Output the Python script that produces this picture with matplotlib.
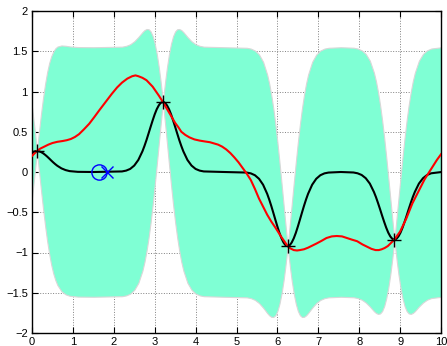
import matplotlib
matplotlib.use('Agg')
import matplotlib.pyplot as plt

# observed samples (black +) and the next query (blue o / x)
obs_x = [0.12, 3.20, 6.25, 8.86]
obs_y = [0.26, 0.87, -0.92, -0.84]
query_o = (1.64, 0.0)
query_x = (1.84, 0.0)

# GP posterior: mean and +/- band
gp_x = [0.00, 0.06, 0.09, 0.12, 0.15, 0.18, 0.22, 0.27, 0.32, 0.37, 0.42, 0.47, 0.52, 0.57, 0.62, 0.72, 0.82, 0.92, 1.12, 1.50,
        2.20, 2.30, 2.40, 2.50, 2.60, 2.70, 2.75, 2.80, 2.85, 2.90, 2.95, 3.00, 3.05, 3.10, 3.14, 3.17, 3.20,
        3.23, 3.26, 3.30, 3.35, 3.40, 3.45, 3.50, 3.55, 3.60, 3.65, 3.70, 3.80, 3.90, 4.00, 4.10, 4.20, 4.70,
        5.25, 5.35, 5.45, 5.55, 5.65, 5.75, 5.80, 5.85, 5.90, 5.95, 6.00, 6.05, 6.10, 6.15, 6.19, 6.22, 6.25,
        6.28, 6.31, 6.35, 6.40, 6.45, 6.50, 6.55, 6.60, 6.65, 6.70, 6.75, 6.85, 6.95, 7.05, 7.15, 7.25, 7.55,
        7.86, 7.96, 8.06, 8.16, 8.26, 8.36, 8.41, 8.46, 8.51, 8.56, 8.61, 8.66, 8.71, 8.76, 8.80, 8.83, 8.86,
        8.89, 8.92, 8.96, 9.01, 9.06, 9.11, 9.16, 9.21, 9.26, 9.31, 9.36, 9.46, 9.56, 9.66, 9.76, 10.00]

gp_mean = [0.242, 0.255, 0.259, 0.26, 0.259, 0.255, 0.248, 0.233, 0.214, 0.192, 0.168, 0.143, 0.119, 0.097, 0.077, 0.045, 0.024, 0.011, 0.002, 0.0,
           0.007, 0.017, 0.038, 0.080, 0.150, 0.257, 0.324, 0.398, 0.479, 0.561, 0.641, 0.716, 0.780, 0.828, 0.855, 0.866, 0.87,
           0.866, 0.855, 0.828, 0.780, 0.716, 0.641, 0.561, 0.479, 0.398, 0.324, 0.257, 0.150, 0.080, 0.038, 0.017, 0.007, 0.0,
           -0.007, -0.017, -0.040, -0.084, -0.158, -0.271, -0.342, -0.421, -0.506, -0.593, -0.678, -0.757, -0.824, -0.876, -0.904, -0.916, -0.92,
           -0.916, -0.904, -0.876, -0.824, -0.757, -0.678, -0.593, -0.506, -0.421, -0.342, -0.271, -0.158, -0.084, -0.040, -0.017, -0.007, 0.0,
           -0.006, -0.016, -0.037, -0.077, -0.144, -0.248, -0.312, -0.385, -0.462, -0.542, -0.619, -0.691, -0.753, -0.80, -0.825, -0.836, -0.84,
           -0.836, -0.825, -0.80, -0.753, -0.691, -0.619, -0.542, -0.462, -0.385, -0.312, -0.248, -0.144, -0.077, -0.037, -0.016, -0.001]

gp_upper = [0.803, 0.543, 0.404, 0.26, 0.404, 0.543, 0.721, 0.921, 1.094, 1.24, 1.354, 1.438, 1.497, 1.536, 1.558, 1.572, 1.568, 1.56, 1.552, 1.55,
            1.557, 1.567, 1.587, 1.624, 1.677, 1.738, 1.763, 1.776, 1.774, 1.747, 1.689, 1.596, 1.468, 1.301, 1.143, 1.011, 0.87,
            1.011, 1.143, 1.301, 1.468, 1.596, 1.689, 1.747, 1.774, 1.776, 1.763, 1.738, 1.677, 1.624, 1.587, 1.567, 1.557, 1.55,
            1.543, 1.533, 1.509, 1.46, 1.369, 1.21, 1.097, 0.957, 0.789, 0.593, 0.37, 0.123, -0.136, -0.403, -0.616, -0.771, -0.92,
            -0.771, -0.616, -0.403, -0.136, 0.123, 0.37, 0.593, 0.789, 0.957, 1.097, 1.21, 1.369, 1.46, 1.509, 1.533, 1.543, 1.55,
            1.544, 1.534, 1.512, 1.467, 1.383, 1.233, 1.127, 0.993, 0.833, 0.644, 0.429, 0.189, -0.065, -0.327, -0.537, -0.691, -0.84,
            -0.691, -0.537, -0.327, -0.065, 0.189, 0.429, 0.644, 0.833, 0.993, 1.127, 1.233, 1.383, 1.467, 1.512, 1.534, 1.549]

gp_lower = [-0.319, -0.033, 0.114, 0.26, 0.114, -0.033, -0.225, -0.455, -0.666, -0.856, -1.018, -1.152, -1.259, -1.342, -1.404, -1.482, -1.52, -1.538, -1.548, -1.55,
            -1.543, -1.533, -1.511, -1.464, -1.377, -1.224, -1.115, -0.98, -0.816, -0.625, -0.407, -0.164, 0.092, 0.355, 0.567, 0.721, 0.87,
            0.721, 0.567, 0.355, 0.092, -0.164, -0.407, -0.625, -0.816, -0.98, -1.115, -1.224, -1.377, -1.464, -1.511, -1.533, -1.543, -1.55,
            -1.557, -1.567, -1.589, -1.628, -1.685, -1.752, -1.781, -1.799, -1.801, -1.779, -1.726, -1.637, -1.512, -1.349, -1.192, -1.061, -0.92,
            -1.061, -1.192, -1.349, -1.512, -1.637, -1.726, -1.779, -1.801, -1.799, -1.781, -1.752, -1.685, -1.628, -1.589, -1.567, -1.557, -1.55,
            -1.556, -1.566, -1.586, -1.621, -1.671, -1.729, -1.751, -1.763, -1.757, -1.728, -1.667, -1.571, -1.441, -1.273, -1.113, -0.981, -0.84,
            -0.981, -1.113, -1.273, -1.441, -1.571, -1.667, -1.728, -1.757, -1.763, -1.751, -1.729, -1.671, -1.621, -1.586, -1.566, -1.551]

# true objective (red)
true_x = [0.0, 0.12, 0.2, 0.28, 0.4, 0.5, 0.62, 0.75, 0.85, 0.95, 1.05, 1.15, 1.27, 1.4, 1.52, 1.65, 1.8, 1.95, 2.08, 2.2,
          2.33, 2.45, 2.53, 2.6, 2.7, 2.8, 2.95, 3.1, 3.2, 3.35, 3.5, 3.58, 3.65, 3.75, 3.85, 3.97, 4.1, 4.22, 4.35,
          4.45, 4.55, 4.65, 4.75, 4.85, 4.95, 5.05, 5.15, 5.25, 5.35, 5.45, 5.55, 5.65, 5.75, 5.85, 5.95, 6.1, 6.25,
          6.32, 6.4, 6.48, 6.55, 6.65, 6.75, 6.85, 6.95, 7.08, 7.2, 7.33, 7.45, 7.58, 7.7, 7.82, 7.95, 8.08, 8.2,
          8.3, 8.4, 8.48, 8.55, 8.62, 8.7, 8.86, 9.0, 9.15, 9.3, 9.45, 9.6, 9.7, 9.8, 9.9, 10.0]
true_y = [0.2, 0.26, 0.29, 0.31, 0.34, 0.36, 0.375, 0.385, 0.395, 0.41, 0.435, 0.47, 0.53, 0.6, 0.68, 0.77, 0.87, 0.97, 1.05, 1.11,
          1.16, 1.19, 1.2, 1.19, 1.17, 1.14, 1.06, 0.95, 0.87, 0.74, 0.61, 0.555, 0.5, 0.46, 0.43, 0.405, 0.39, 0.38, 0.37,
          0.355, 0.34, 0.315, 0.28, 0.235, 0.18, 0.12, 0.05, -0.02, -0.1, -0.21, -0.33, -0.43, -0.53, -0.615, -0.69, -0.81, -0.92,
          -0.95, -0.97, -0.975, -0.97, -0.96, -0.94, -0.915, -0.89, -0.855, -0.82, -0.8, -0.795, -0.8, -0.82, -0.84, -0.86, -0.9, -0.93,
          -0.955, -0.97, -0.97, -0.96, -0.945, -0.92, -0.84, -0.74, -0.58, -0.39, -0.24, -0.09, -0.01, 0.07, 0.15, 0.22]

x_ticks = [0, 1, 2, 3, 4, 5, 6, 7, 8, 9, 10]
y_ticks = [-2, -1.5, -1, -0.5, 0, 0.5, 1, 1.5, 2]

plt.rcParams['font.family'] = ['Liberation Sans', 'DejaVu Sans']

fig = plt.figure(figsize=(4.47, 3.46), dpi=100)
ax = fig.add_axes([32 / 447, 13 / 346, 409 / 447, 322 / 346])

ax.fill_between(gp_x, gp_lower, gp_upper, facecolor='#7fffd4', edgecolor='#d8d8d8', linewidth=0.8, zorder=1)
ax.plot(gp_x, gp_mean, color='black', linewidth=1.5, zorder=2)
ax.plot(true_x, true_y, color='red', linewidth=1.5, zorder=3)
ax.plot(obs_x, obs_y, '+', color='black', markersize=10, markeredgewidth=1.0, zorder=4)
ax.plot(*query_o, 'o', markersize=11, markerfacecolor='none', markeredgecolor='blue', markeredgewidth=1.0, zorder=5)
ax.plot(*query_x, 'x', markersize=8, color='blue', markeredgewidth=1.0, zorder=5)

ax.set_xlim(0, 10)
ax.set_ylim(-2, 2)
ax.set_xticks(x_ticks)
ax.set_yticks(y_ticks)
ax.set_yticklabels([('%g' % v).replace('-', '\u2212') for v in y_ticks])
ax.set_axisbelow(True)
ax.grid(True, linestyle=':', color='#808080', linewidth=0.7)
ax.tick_params(direction='in', top=True, right=True, length=4, width=0.8, labelsize=8, pad=3)
for s in ax.spines.values():
    s.set_linewidth(1.0)

fig.savefig('out.png', dpi=100)
